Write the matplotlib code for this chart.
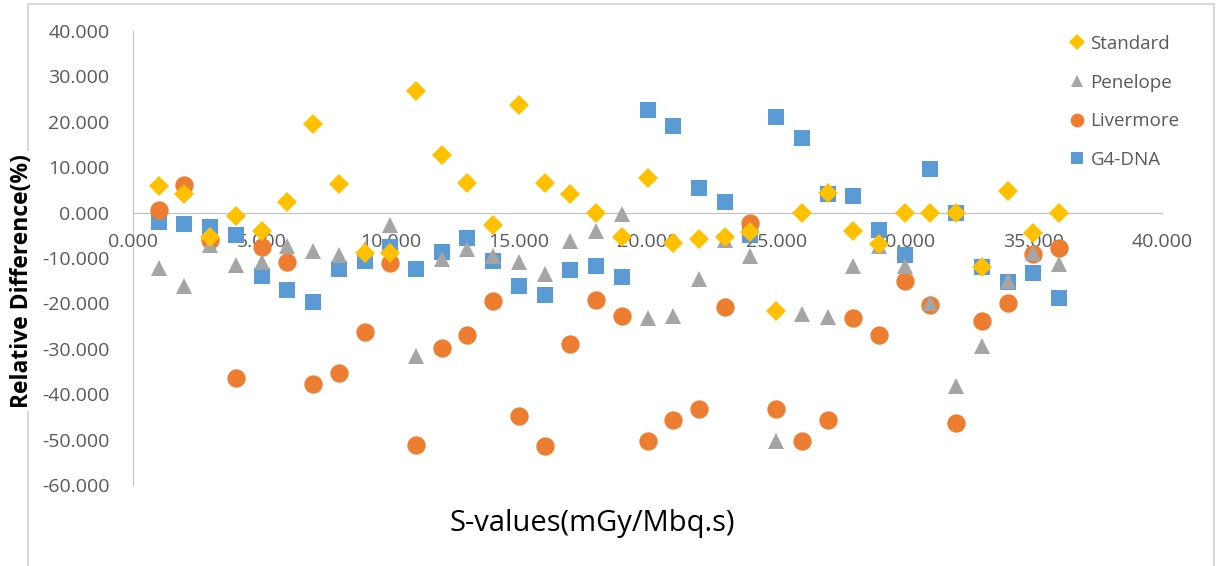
import matplotlib
matplotlib.use("Agg")
import matplotlib.pyplot as plt
from matplotlib.patches import Rectangle

plt.rcParams['font.family'] = ['Open Sans', 'DejaVu Sans']

# x positions (S-value index)
x = list(range(1, 37))

standard = [5.9, 4.2, -5.3, -0.7, -4.0, 2.4, 19.6, 6.4, -8.8, -9.0,
            26.7, 12.6, 6.6, -2.7, 23.6, 6.6, 4.0, -0.1, -5.4, 7.7,
            -6.6, -5.9, -5.4, -4.3, -21.6, -0.1, 4.3, -4.1, -6.9, 0.0,
            0.0, 0.0, -12.0, 4.7, -4.4, 0.0]
penelope = [-12.2, -16.2, -7.2, -11.6, -10.9, -7.4, -8.5, -9.4, -8.0, -2.8,
            -31.5, -10.2, -8.0, -9.5, -10.8, -13.6, -6.3, -4.0, -0.3, -23.3,
            -22.8, -14.6, -6.0, -9.5, -50.2, -22.3, -22.9, -11.8, -7.3, -11.8,
            -19.9, -38.3, -29.3, -15.0, -8.9, -11.3]
livermore = [0.5, 6.1, -6.0, -36.4, -7.6, -10.8, -37.7, -35.4, -26.2, -11.1,
             -51.1, -29.9, -26.9, -19.4, -44.9, -51.3, -28.9, -19.2, -22.7, -50.2,
             -45.6, -43.2, -20.7, -2.4, -43.2, -50.2, -45.6, -23.3, -26.9, -15.0,
             -20.3, -46.3, -23.8, -20.0, -9.1, -7.8]
g4dna = [-2.1, -2.6, -3.2, -4.9, -13.9, -17.0, -19.8, -12.4, -10.6, -7.6,
         -12.4, -8.7, -5.6, -10.6, -16.1, -18.1, -12.6, -11.7, -14.1, 22.7,
         19.0, 5.4, 2.3, -4.9, 21.1, 16.5, 4.2, 3.6, -3.8, -9.3,
         9.6, 0.0, -12.0, -15.2, -13.4, -18.9]

W, H = 1218, 566
fig = plt.figure(figsize=(W / 100, H / 100), dpi=100)
ax = fig.add_axes([133 / W, 1 - 485 / H, (1162 - 133) / W, (485 - 31) / H])

grey_txt = '#595959'
axis_col = '#bfbfbf'

# bottom to top: G4-DNA, Livermore, Penelope, Standard
ax.plot(x, g4dna, 's', color='#5B9BD5', ms=12.2, mew=0, zorder=3, label='G4-DNA')
ax.plot(x, livermore, 'o', color='#ED7D31', ms=13.2, mew=0, zorder=4, label='Livermore')
ax.plot(x, penelope, '^', color='#A5A5A5', ms=11.5, mew=0, zorder=5, label='Penelope')
ax.plot(x, standard, 'D', color='#FFC000', ms=10.2, mew=0, zorder=6, label='Standard')

ax.set_xlim(0, 40)
ax.set_ylim(-60, 40)
ax.set_xticks(range(0, 41, 5))
ax.set_yticks(range(-60, 41, 10))
ax.xaxis.set_major_formatter(matplotlib.ticker.FormatStrFormatter('%.3f'))
ax.yaxis.set_major_formatter(matplotlib.ticker.FormatStrFormatter('%.3f'))

for s in ['top', 'right']:
    ax.spines[s].set_visible(False)
ax.spines['bottom'].set_position(('data', 0))
ax.spines['bottom'].set_color(axis_col)
ax.spines['left'].set_color(axis_col)
ax.spines['bottom'].set_zorder(1)
ax.spines['left'].set_zorder(1)
ax.tick_params(axis='both', length=0, labelsize=14, labelcolor=grey_txt)
ax.tick_params(axis='x', pad=15)
ax.tick_params(axis='y', pad=17)
ax.xaxis.set_zorder(1)
ax.yaxis.set_zorder(1)
ax.set_facecolor('none')

# legend
handles, labels = ax.get_legend_handles_labels()
order = [3, 2, 1, 0]
leg = fig.legend([handles[i] for i in order], [labels[i] for i in order],
                 loc='upper left', bbox_to_anchor=(1053 / W, 1 - 18 / H),
                 frameon=False, fontsize=13.5, labelcolor=grey_txt,
                 markerscale=0.75, handlelength=0.8, handletextpad=0.3,
                 labelspacing=1.1)

# chart area border
fig.patches.append(Rectangle((28 / W, -0.05), (1214 - 28) / W, 1.05 - 4 / H,
                             transform=fig.transFigure, fill=False,
                             edgecolor='#d9d9d9', lw=1.5, zorder=0))

fig.text(22 / W, 1 - 281 / H, 'Relative Difference(%)', rotation=90,
         ha='center', va='center', fontsize=16.5, fontweight='bold', color='black',
         bbox=dict(facecolor='white', edgecolor='none', pad=2))
fig.text(592 / W, 1 - 523 / H, 'S-values(mGy/Mbq.s)', ha='center', va='center',
         fontsize=21, color='black')

fig.savefig('out.png', dpi=100)
